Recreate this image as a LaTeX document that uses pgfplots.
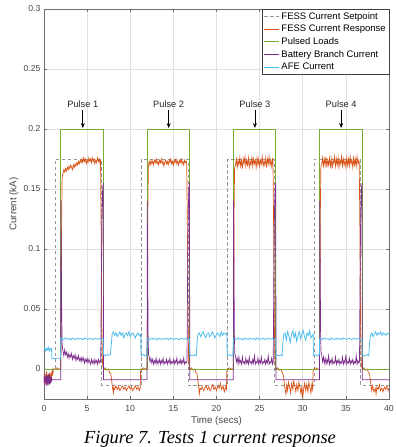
\documentclass[border=0pt]{standalone}
\usepackage{pgfplots}
\pgfplotsset{compat=1.18}
\usepackage{fontspec}
\setmainfont{Liberation Sans}
\newfontfamily\capfont{Liberation Serif}
\usetikzlibrary{arrows.meta}
\definecolor{cSet}{RGB}{150,150,150}
\definecolor{cResp}{RGB}{217,83,25}
\definecolor{cLoad}{RGB}{119,172,48}
\definecolor{cBatt}{RGB}{126,47,142}
\definecolor{cAFE}{RGB}{77,190,238}
\definecolor{cAx}{RGB}{110,110,110}
\definecolor{cTxt}{RGB}{70,70,70}
\definecolor{cGrid}{RGB}{225,225,225}
\begin{document}
\begin{tikzpicture}
\begin{axis}[
  at={(0,0)}, anchor=south west,
  scale only axis, width=345bp, height=390bp,
  xmin=0, xmax=40, ymin=-0.025, ymax=0.3,
  xtick={0,5,...,40},
  ytick={0,0.05,0.1,0.15,0.2,0.25,0.3},
  yticklabels={0,0.05,0.1,0.15,0.2,0.25,0.3},
  scaled y ticks=false,
  grid=major,
  major grid style={draw=cGrid, line width=0.5pt},
  axis line style={draw=cAx, line width=0.5pt},
  tick style={draw=cAx, line width=0.5pt},
  tick align=inside, major tick length=3bp,
  ticklabel style={font=\fontsize{8.7}{10}\selectfont, text=cTxt},
  xticklabel style={yshift=-3bp},
  /pgf/number format/assume math mode=true,
  xlabel={Time (secs)}, ylabel={Current (kA)},
  label style={font=\fontsize{9.8}{11}\selectfont, text=cTxt},
  xlabel style={at={(axis description cs:0.5,0)}, anchor=north, inner sep=1bp, yshift=-16.5bp},
  ylabel style={at={(axis description cs:0,0.5)}, anchor=south, yshift=22bp},
  legend cell align=left,
  legend style={at={(1,1)}, anchor=north east, draw=black!75, line width=0.5pt,
    font=\fontsize{9.5}{11}\selectfont, inner sep=1.5bp, row sep=1.2bp,
    nodes={inner sep=1.6bp}},
  legend image code/.code={\draw[#1] plot coordinates {(0bp,0bp) (15bp,0bp)};},
]
% FESS Current Setpoint
\addplot[cSet, line width=0.6pt, dash pattern=on 3.5bp off 2.5bp] coordinates {
(0,0)(1.3,0)(1.3,0.175)(6.7,0.175)(6.7,-0.0135)(11.3,-0.0135)(11.3,0.175)(16.7,0.175)(16.7,-0.0135)(21.3,-0.0135)(21.3,0.175)(26.7,0.175)(26.7,-0.0135)(31.3,-0.0135)(31.3,0.175)(36.7,0.175)(36.7,-0.0135)(40,-0.0135)};
\addlegendentry{FESS Current Setpoint}
% FESS Current Response
\addplot[cResp, line width=0.7pt] coordinates {
(0,-0.004)(0.05,-0.011)(0.1,-0.003)(0.15,-0.012)(0.2,-0.006)(0.25,-0.013)(0.3,-0.002)(0.35,-0.010)(0.4,-0.005)(0.45,-0.013)(0.5,-0.004)(0.55,-0.011)(0.6,-0.003)(0.65,-0.012)(0.7,-0.005)(0.75,-0.010)(0.8,-0.003)(0.85,-0.009)(0.9,-0.002)(0.95,-0.006)(1.0,-0.001)(1.05,-0.003)(1.1,0.000)(1.3,0.000)(1.5,0.001)(1.7,0.000)(1.95,0.000)
(2.0,0.060)(2.05,0.130)(2.1,0.158)(2.15,0.162)
(2.2,0.163)(2.3,0.166)(2.4,0.164)(2.5,0.167)(2.6,0.165)(2.7,0.168)(2.8,0.166)(2.9,0.169)(3.0,0.167)(3.1,0.170)(3.2,0.168)(3.3,0.166)(3.4,0.170)(3.5,0.168)(3.6,0.171)(3.7,0.169)(3.8,0.172)(3.9,0.170)(4.0,0.173)(4.1,0.171)(4.2,0.174)(4.3,0.172)(4.4,0.175)(4.5,0.172)(4.6,0.176)(4.7,0.173)(4.8,0.175)(4.9,0.171)(5.0,0.174)(5.1,0.172)(5.2,0.176)(5.3,0.173)(5.4,0.175)(5.5,0.172)(5.6,0.176)(5.7,0.173)(5.8,0.175)(5.9,0.171)(6.0,0.174)(6.1,0.172)(6.2,0.176)(6.3,0.173)(6.4,0.175)(6.5,0.171)(6.55,0.174)
(6.62,0.120)(6.7,0.040)(6.78,0.005)(6.85,0.001)
(6.9,0.000)(7.1,0.001)(7.3,-0.001)(7.5,0.000)(7.6,-0.003)(7.75,-0.004)(7.85,-0.010)(7.95,-0.016)
(8.05,-0.020)(8.1,-0.015)(8.2,-0.017)(8.35,-0.014)(8.5,-0.017)(8.65,-0.015)(8.8,-0.018)(8.95,-0.016)(9.1,-0.014)(9.25,-0.017)(9.4,-0.015)(9.55,-0.018)(9.7,-0.016)(9.85,-0.014)(10.0,-0.017)(10.15,-0.015)(10.3,-0.018)(10.45,-0.016)(10.6,-0.014)(10.75,-0.017)(10.9,-0.015)(11.05,-0.018)(11.15,-0.016)
(11.2,-0.002)(11.3,0.000)(11.5,0.001)(11.7,0.000)(11.95,0.000)
(12.0,0.060)(12.05,0.140)(12.1,0.168)
(12.2,0.173)(12.3,0.170)(12.4,0.174)(12.5,0.171)(12.6,0.173)(12.7,0.170)(12.8,0.174)(12.9,0.172)(13.0,0.175)(13.1,0.171)(13.2,0.173)(13.3,0.170)(13.4,0.174)(13.5,0.172)(13.6,0.175)(13.7,0.171)(13.8,0.173)(13.9,0.169)(14.0,0.172)(14.1,0.174)(14.2,0.171)(14.3,0.173)(14.4,0.170)(14.5,0.174)(14.6,0.172)(14.7,0.175)(14.8,0.171)(14.9,0.173)(15.0,0.170)(15.1,0.174)(15.2,0.172)(15.3,0.175)(15.4,0.171)(15.5,0.173)(15.6,0.170)(15.7,0.174)(15.8,0.172)(15.9,0.175)(16.0,0.171)(16.1,0.173)(16.2,0.170)(16.3,0.174)(16.4,0.172)(16.5,0.173)(16.55,0.171)
(16.62,0.120)(16.7,0.040)(16.78,0.005)(16.85,0.001)
(16.9,0.000)(17.1,0.001)(17.3,-0.001)(17.5,0.000)(17.6,-0.003)(17.75,-0.004)(17.85,-0.010)(17.95,-0.016)
(18.0,-0.021)(18.1,-0.016)(18.2,-0.017)(18.35,-0.015)(18.5,-0.018)(18.65,-0.016)(18.8,-0.014)(18.95,-0.017)(19.1,-0.015)(19.25,-0.018)(19.4,-0.016)(19.55,-0.013)(19.7,-0.017)(19.85,-0.015)(20.0,-0.018)(20.15,-0.014)(20.3,-0.016)(20.45,-0.012)(20.6,-0.017)(20.75,-0.014)(20.9,-0.019)(21.05,-0.015)(21.15,-0.017)
(21.2,-0.002)(21.3,0.000)(21.5,0.001)(21.7,0.000)(21.95,0.000)
(22.0,0.060)(22.05,0.140)(22.1,0.168)
(22.2,0.170)(22.3,0.175)(22.4,0.168)(22.5,0.174)(22.6,0.170)(22.7,0.176)(22.8,0.169)(22.9,0.174)(23.0,0.167)(23.1,0.175)(23.2,0.171)(23.3,0.177)(23.4,0.169)(23.5,0.174)(23.6,0.170)(23.7,0.176)(23.8,0.168)(23.9,0.173)(24.0,0.170)(24.1,0.177)(24.2,0.169)(24.3,0.175)(24.4,0.171)(24.5,0.174)(24.6,0.168)(24.7,0.176)(24.8,0.170)(24.9,0.175)(25.0,0.169)(25.1,0.174)(25.2,0.171)(25.3,0.177)(25.4,0.169)(25.5,0.173)(25.6,0.170)(25.7,0.176)(25.8,0.168)(25.9,0.175)(26.0,0.171)(26.1,0.177)(26.2,0.170)(26.3,0.174)(26.4,0.169)(26.5,0.176)(26.55,0.172)
(26.62,0.120)(26.7,0.040)(26.78,0.005)(26.85,0.001)
(26.9,0.000)(27.1,0.001)(27.3,-0.001)(27.5,0.000)(27.6,-0.003)(27.75,-0.005)(27.85,-0.011)(27.95,-0.017)
(28.05,-0.021)(28.15,-0.013)(28.25,-0.018)(28.35,-0.011)(28.5,-0.016)(28.6,-0.020)(28.7,-0.012)(28.85,-0.017)(28.95,-0.010)(29.1,-0.015)(29.2,-0.019)(29.3,-0.013)(29.45,-0.018)(29.55,-0.011)(29.7,-0.016)(29.8,-0.021)(29.9,-0.014)(30.0,-0.024)(30.1,-0.017)(30.2,-0.012)(30.35,-0.018)(30.45,-0.013)(30.6,-0.019)(30.7,-0.011)(30.85,-0.016)(30.95,-0.020)(31.05,-0.013)(31.15,-0.017)
(31.2,-0.002)(31.3,0.000)(31.5,0.001)(31.7,0.000)(31.95,0.000)
(32.0,0.060)(32.05,0.140)(32.1,0.168)
(32.2,0.171)(32.3,0.176)(32.4,0.169)(32.5,0.175)(32.6,0.170)(32.7,0.177)(32.8,0.168)(32.9,0.174)(33.0,0.170)(33.1,0.176)(33.2,0.169)(33.3,0.175)(33.4,0.167)(33.5,0.174)(33.6,0.171)(33.7,0.177)(33.8,0.169)(33.9,0.175)(34.0,0.170)(34.1,0.176)(34.2,0.168)(34.3,0.174)(34.4,0.171)(34.5,0.177)(34.6,0.169)(34.7,0.175)(34.8,0.170)(34.9,0.174)(35.0,0.168)(35.1,0.176)(35.2,0.170)(35.3,0.175)(35.4,0.169)(35.5,0.177)(35.6,0.171)(35.7,0.174)(35.8,0.168)(35.9,0.176)(36.0,0.170)(36.1,0.175)(36.2,0.169)(36.3,0.177)(36.4,0.171)(36.5,0.174)(36.55,0.172)
(36.62,0.120)(36.7,0.040)(36.78,0.005)(36.85,0.001)
(36.9,0.000)(37.1,0.001)(37.3,-0.001)(37.5,0.000)(37.6,-0.003)(37.75,-0.004)(37.85,-0.010)(37.95,-0.016)
(38.0,-0.018)(38.1,-0.014)(38.25,-0.019)(38.4,-0.016)(38.5,-0.021)(38.6,-0.015)(38.75,-0.017)(38.9,-0.013)(39.0,-0.018)(39.15,-0.016)(39.3,-0.019)(39.45,-0.015)(39.6,-0.017)(39.75,-0.014)(39.9,-0.018)(40,-0.016)};
\addlegendentry{FESS Current Response}
% Pulsed Loads
\addplot[cLoad, line width=0.7pt] coordinates {
(0,0)(1.95,0)(1.95,0.2)(6.88,0.2)(6.88,0)(11.95,0)(11.95,0.2)(16.88,0.2)(16.88,0)(21.95,0)(21.95,0.2)(26.88,0.2)(26.88,0)(31.95,0)(31.95,0.2)(36.88,0.2)(36.88,0)(40,0)};
\addlegendentry{Pulsed Loads}
% Battery Branch Current
\addplot[cBatt, line width=0.7pt] coordinates {
(0,-0.006)(0.05,-0.013)(0.1,-0.004)(0.15,-0.011)(0.2,-0.007)(0.25,-0.014)(0.3,-0.005)(0.35,-0.012)(0.4,-0.006)(0.45,-0.014)(0.5,-0.005)(0.55,-0.012)(0.6,-0.004)(0.65,-0.013)(0.7,-0.007)(0.75,-0.012)(0.8,-0.006)(0.85,-0.011)(0.9,-0.008)(1.0,-0.009)(1.9,-0.009)
(1.94,-0.009)(1.96,0.140)(2.0,0.100)(2.05,0.050)(2.1,0.022)(2.15,0.017)
(2.2,0.015)(2.3,0.011)(2.4,0.016)(2.5,0.012)(2.6,0.014)(2.7,0.010)(2.8,0.013)(2.9,0.009)(3.0,0.012)(3.1,0.010)(3.2,0.013)(3.3,0.008)(3.4,0.011)(3.5,0.009)(3.6,0.012)(3.7,0.007)(3.8,0.010)(3.9,0.008)(4.0,0.011)(4.1,0.007)(4.2,0.009)(4.3,0.006)(4.4,0.010)(4.5,0.007)(4.6,0.009)(4.7,0.005)(4.8,0.008)(4.9,0.006)(5.0,0.009)(5.1,0.005)(5.2,0.008)(5.3,0.006)(5.4,0.004)(5.5,0.008)(5.6,0.005)(5.7,0.007)(5.8,0.004)(5.9,0.008)(6.0,0.005)(6.1,0.007)(6.2,0.004)(6.3,0.008)(6.4,0.005)(6.5,0.007)(6.58,0.006)
(6.64,0.070)(6.72,0.130)(6.8,0.150)(6.87,0.155)(6.9,-0.009)(11.95,-0.009)
(11.97,0.140)(12.02,0.090)(12.07,0.030)(12.12,0.012)
(12.2,0.010)(12.3,0.006)(12.4,0.009)(12.5,0.005)(12.6,0.008)(12.7,0.004)(12.8,0.007)(12.9,0.005)(13.0,0.009)(13.1,0.004)(13.2,0.007)(13.3,0.005)(13.4,0.008)(13.5,0.004)(13.6,0.007)(13.7,0.005)(13.8,0.009)(13.9,0.004)(14.0,0.006)(14.1,0.005)(14.2,0.008)(14.3,0.004)(14.4,0.007)(14.5,0.005)(14.6,0.009)(14.7,0.004)(14.8,0.006)(14.9,0.005)(15.0,0.008)(15.1,0.004)(15.2,0.007)(15.3,0.005)(15.4,0.009)(15.5,0.004)(15.6,0.006)(15.7,0.005)(15.8,0.008)(15.9,0.004)(16.0,0.007)(16.1,0.005)(16.2,0.009)(16.3,0.004)(16.4,0.006)(16.5,0.005)(16.58,0.006)
(16.64,0.070)(16.72,0.130)(16.8,0.150)(16.87,0.155)(16.9,-0.009)(21.95,-0.009)
(21.97,0.140)(22.02,0.090)(22.07,0.030)(22.12,0.013)
(22.2,0.011)(22.3,0.006)(22.4,0.009)(22.5,0.004)(22.6,0.010)(22.7,0.005)(22.8,0.007)(22.9,0.004)(23.0,0.010)(23.1,0.005)(23.2,0.006)(23.3,0.004)(23.4,0.009)(23.5,0.005)(23.6,0.007)(23.7,0.004)(23.8,0.010)(23.9,0.005)(24.0,0.006)(24.1,0.004)(24.2,0.008)(24.3,0.005)(24.4,0.011)(24.5,0.004)(24.6,0.006)(24.7,0.005)(24.8,0.009)(24.9,0.004)(25.0,0.007)(25.1,0.005)(25.2,0.010)(25.3,0.004)(25.4,0.006)(25.5,0.005)(25.6,0.008)(25.7,0.004)(25.8,0.007)(25.9,0.005)(26.0,0.011)(26.1,0.004)(26.2,0.006)(26.3,0.005)(26.4,0.009)(26.5,0.004)(26.58,0.006)
(26.64,0.070)(26.72,0.130)(26.8,0.150)(26.87,0.155)(26.9,-0.009)(31.95,-0.009)
(31.97,0.140)(32.02,0.090)(32.07,0.030)(32.12,0.014)
(32.2,0.012)(32.3,0.006)(32.4,0.010)(32.5,0.005)(32.6,0.009)(32.7,0.004)(32.8,0.008)(32.9,0.005)(33.0,0.011)(33.1,0.004)(33.2,0.007)(33.3,0.005)(33.4,0.009)(33.5,0.004)(33.6,0.006)(33.7,0.005)(33.8,0.010)(33.9,0.004)(34.0,0.007)(34.1,0.005)(34.2,0.008)(34.3,0.004)(34.4,0.006)(34.5,0.005)(34.6,0.010)(34.7,0.004)(34.8,0.007)(34.9,0.005)(35.0,0.012)(35.1,0.004)(35.2,0.006)(35.3,0.005)(35.4,0.009)(35.5,0.004)(35.6,0.007)(35.7,0.005)(35.8,0.008)(35.9,0.004)(36.0,0.006)(36.1,0.005)(36.2,0.011)(36.3,0.004)(36.4,0.007)(36.5,0.005)(36.58,0.006)
(36.64,0.070)(36.72,0.130)(36.8,0.150)(36.87,0.155)(36.9,-0.009)(40,-0.009)};
\addlegendentry{Battery Branch Current}
% AFE Current
\addplot[cAFE, line width=0.8pt] coordinates {
(0,0.016)(0.1,0.018)(0.2,0.015)(0.3,0.017)(0.4,0.016)(0.5,0.018)(0.6,0.015)(0.7,0.017)(0.8,0.016)(0.88,0.017)(0.9,0.009)(1.2,0.0085)(1.5,0.009)(1.92,0.009)
(1.96,0.026)(2.1,0.0255)(2.3,0.0245)(2.5,0.0260)(2.7,0.0248)(2.9,0.0252)(3.1,0.0243)(3.3,0.0258)(3.5,0.0250)(3.7,0.0246)(3.9,0.0257)(4.1,0.0249)(4.3,0.0254)(4.5,0.0244)(4.7,0.0259)(4.9,0.0251)(5.1,0.0247)(5.3,0.0256)(5.5,0.0250)(5.7,0.0245)(5.9,0.0258)(6.1,0.0252)(6.3,0.0248)(6.5,0.0255)(6.7,0.0246)(6.86,0.0252)
(6.9,0.012)(7.1,0.011)(7.3,0.012)(7.5,0.0115)(7.7,0.012)(7.8,0.020)(7.9,0.029)
(8.05,0.031)(8.2,0.028)(8.35,0.030)(8.5,0.027)(8.65,0.029)(8.8,0.031)(8.95,0.028)(9.1,0.030)(9.25,0.026)(9.4,0.029)(9.55,0.030)(9.7,0.028)(9.85,0.031)(10.0,0.027)(10.15,0.029)(10.3,0.030)(10.45,0.028)(10.6,0.026)(10.75,0.029)(10.9,0.030)(11.05,0.028)(11.2,0.029)
(11.25,0.011)(11.5,0.012)(11.7,0.011)(11.92,0.0115)
(11.96,0.025)(12.1,0.0255)(12.3,0.0245)(12.5,0.0260)(12.7,0.0248)(12.9,0.0252)(13.1,0.0243)(13.3,0.0258)(13.5,0.0250)(13.7,0.0246)(13.9,0.0257)(14.1,0.0249)(14.3,0.0254)(14.5,0.0244)(14.7,0.0259)(14.9,0.0251)(15.1,0.0247)(15.3,0.0256)(15.5,0.0250)(15.7,0.0245)(15.9,0.0258)(16.1,0.0252)(16.3,0.0248)(16.5,0.0255)(16.7,0.0246)(16.86,0.0252)
(16.9,0.011)(17.1,0.0115)(17.3,0.011)(17.5,0.012)(17.65,0.011)(17.75,0.022)(17.85,0.029)
(18.0,0.030)(18.15,0.027)(18.3,0.029)(18.45,0.031)(18.6,0.028)(18.75,0.026)(18.9,0.029)(19.05,0.030)(19.2,0.027)(19.35,0.028)(19.5,0.031)(19.65,0.029)(19.8,0.026)(19.95,0.028)(20.1,0.030)(20.25,0.029)(20.4,0.027)(20.55,0.031)(20.7,0.028)(20.85,0.030)(21.0,0.029)(21.2,0.030)
(21.25,0.011)(21.5,0.012)(21.7,0.011)(21.92,0.0115)
(21.96,0.025)(22.1,0.0255)(22.3,0.0245)(22.5,0.0260)(22.7,0.0248)(22.9,0.0252)(23.1,0.0243)(23.3,0.0258)(23.5,0.0250)(23.7,0.0246)(23.9,0.0257)(24.1,0.0249)(24.3,0.0254)(24.5,0.0244)(24.7,0.0259)(24.9,0.0251)(25.1,0.0247)(25.3,0.0256)(25.5,0.0250)(25.7,0.0245)(25.9,0.0258)(26.1,0.0252)(26.3,0.0248)(26.5,0.0255)(26.7,0.0246)(26.86,0.0252)
(26.9,0.011)(27.1,0.0115)(27.3,0.011)(27.5,0.012)(27.6,0.011)(27.7,0.022)(27.8,0.029)
(27.95,0.030)(28.1,0.024)(28.25,0.031)(28.4,0.027)(28.55,0.022)(28.7,0.029)(28.85,0.032)(29.0,0.026)(29.15,0.030)(29.3,0.023)(29.45,0.028)(29.6,0.031)(29.75,0.025)(29.9,0.029)(30.05,0.032)(30.2,0.027)(30.35,0.024)(30.5,0.030)(30.65,0.028)(30.8,0.032)(30.95,0.026)(31.2,0.029)
(31.25,0.011)(31.5,0.012)(31.7,0.011)(31.92,0.0115)
(31.96,0.025)(32.1,0.0255)(32.3,0.0245)(32.5,0.0260)(32.7,0.0248)(32.9,0.0252)(33.1,0.0243)(33.3,0.0258)(33.5,0.0250)(33.7,0.0246)(33.9,0.0257)(34.1,0.0249)(34.3,0.0254)(34.5,0.0244)(34.7,0.0259)(34.9,0.0251)(35.1,0.0247)(35.3,0.0256)(35.5,0.0250)(35.7,0.0245)(35.9,0.0258)(36.1,0.0252)(36.3,0.0248)(36.5,0.0255)(36.7,0.0246)(36.86,0.0252)
(36.9,0.011)(37.1,0.0115)(37.3,0.011)(37.5,0.012)(37.65,0.011)(37.75,0.022)(37.85,0.028)
(38.0,0.030)(38.15,0.027)(38.3,0.029)(38.45,0.031)(38.6,0.028)(38.75,0.030)(38.9,0.029)(39.05,0.031)(39.2,0.028)(39.35,0.030)(39.5,0.029)(39.65,0.028)(39.8,0.030)(40,0.029)};
\addlegendentry{AFE Current}
% annotations
\foreach \px/\lab in {4.5/1,14.45/2,24.45/3,34.45/4}{
  \edef\tmp{\noexpand\draw[black, line width=0.7pt, -{Stealth[length=5bp,width=4bp]}] (axis cs:\px,0.2155) -- (axis cs:\px,0.2008);
  \noexpand\node[font=\noexpand\fontsize{9.3}{11}\noexpand\selectfont, text=black!85, anchor=south, inner sep=1bp] at (axis cs:\px,0.2165) {Pulse \lab};}
  \tmp
}
\end{axis}
\node[font=\capfont\itshape\fontsize{18.5}{20}\selectfont, anchor=base] at (166bp,-44.6bp) {Figure 7. Tests 1 current response};
\pgfresetboundingbox
\path (-44bp,-48bp) rectangle (353bp,399bp);
\end{tikzpicture}
\end{document}
